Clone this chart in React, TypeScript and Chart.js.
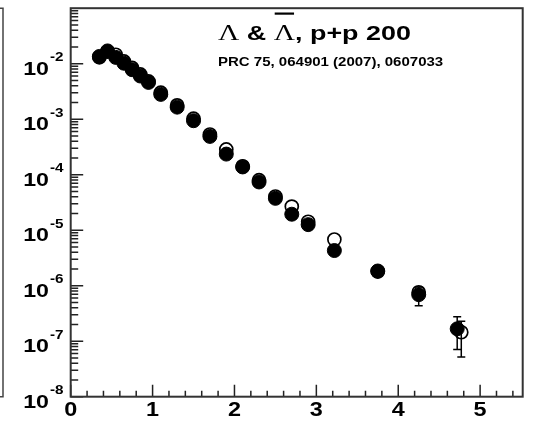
import React, { useEffect, useRef } from "react";
import { Chart, registerables } from "chart.js";

Chart.register(...registerables);

// ---- data ----
const ptLambda = [0.35, 0.45, 0.55, 0.65, 0.75, 0.85, 0.95, 1.1, 1.3, 1.5, 1.7, 1.9, 2.1, 2.3, 2.5, 2.7, 2.9, 3.22, 3.75, 4.25, 4.72];
const yieldLambda = [1.35e-2, 1.7e-2, 1.3e-2, 1.02e-2, 7.8e-3, 6.0e-3, 4.6e-3, 2.8e-3, 1.65e-3, 9.4e-4, 4.9e-4, 2.35e-4, 1.38e-4, 7.4e-5, 3.75e-5, 1.94e-5, 1.26e-5, 4.3e-6, 1.84e-6, 6.9e-7, 1.67e-7];
const lambdaErrLow: (number | null)[] = [null, null, null, null, null, null, null, null, null, null, null, null, null, null, null, null, null, null, null, 4.35e-7, 7.1e-8];
const lambdaErrHigh: (number | null)[] = [null, null, null, null, null, null, null, null, null, null, null, null, null, null, null, null, null, null, null, 9.5e-7, 2.77e-7];

const ptAntiLambda = [0.35, 0.45, 0.55, 0.65, 0.75, 0.85, 0.95, 1.1, 1.3, 1.5, 1.7, 1.9, 2.1, 2.3, 2.5, 2.7, 2.9, 3.22, 3.75, 4.25, 4.77];
const yieldAntiLambda = [1.3e-2, 1.65e-2, 1.45e-2, 1.1e-2, 8.4e-3, 6.4e-3, 4.8e-3, 3.0e-3, 1.78e-3, 1.02e-3, 5.3e-4, 2.85e-4, 1.42e-4, 8.0e-5, 4.05e-5, 2.67e-5, 1.42e-5, 6.8e-6, 1.8e-6, 7.6e-7, 1.45e-7];
const antiErrLow: (number | null)[] = [null, null, null, null, null, null, null, null, null, null, null, null, null, null, null, null, null, null, null, null, 5.2e-8];
const antiErrHigh: (number | null)[] = [null, null, null, null, null, null, null, null, null, null, null, null, null, null, null, null, null, null, null, null, 2.28e-7];

const xTickLabels = ["0", "1", "2", "3", "4", "5"];
const xMajorTicks = [0, 1, 2, 3, 4, 5];
const xMinorSteps = [0.2, 0.4, 0.6, 0.8];
const yLabelExponents = [-8, -7, -6, -5, -4, -3, -2];
const yTickDecades = [-8, -7, -6, -5, -4, -3, -2];
const yMinorMultipliers = [2, 3, 4, 5, 6, 7, 8, 9];

const titleParts = [
  { text: "Λ", serif: true, bar: false },
  { text: " & ", serif: false, bar: false },
  { text: "Λ", serif: true, bar: true },
  { text: ", p+p 200", serif: false, bar: false },
];
const subtitle = "PRC 75, 064901 (2007), 0607033";

const SANS = '"Liberation Sans", Arial, sans-serif';
const SERIF = '"Liberation Serif", "Times New Roman", serif';

function drawScaled(ctx: CanvasRenderingContext2D, text: string, x: number, y: number, sx: number, align: "left" | "right" | "center") {
  const w = ctx.measureText(text).width * sx;
  let left = x;
  if (align === "right") left = x - w;
  else if (align === "center") left = x - w / 2;
  ctx.save();
  ctx.translate(left, y);
  ctx.scale(sx, 1);
  ctx.textAlign = "left";
  ctx.fillText(text, 0, 0);
  ctx.restore();
  return w;
}

const decorPlugin = {
  id: "decor",
  beforeDraw(chart: any) {
    const ctx = chart.ctx as CanvasRenderingContext2D;
    ctx.save();
    ctx.fillStyle = "#ffffff";
    ctx.fillRect(0, 0, chart.width, chart.height);
    ctx.restore();
  },
  beforeDatasetsDraw(chart: any) {
    const ctx = chart.ctx as CanvasRenderingContext2D;
    const { left, right, top, bottom } = chart.chartArea;
    const xs = chart.scales.x;
    const ys = chart.scales.y;
    ctx.save();
    ctx.strokeStyle = "#222";
    ctx.lineWidth = 1.5;
    // x ticks (inward)
    ctx.beginPath();
    xMajorTicks.forEach((v) => {
      const px = xs.getPixelForValue(v);
      ctx.moveTo(px, bottom);
      ctx.lineTo(px, bottom - 12);
      xMinorSteps.forEach((s) => {
        const mv = v + s;
        if (mv <= xs.max) {
          const mp = xs.getPixelForValue(mv);
          ctx.moveTo(mp, bottom);
          ctx.lineTo(mp, bottom - 6);
        }
      });
    });
    // y ticks (inward)
    yTickDecades.forEach((d) => {
      const base = Math.pow(10, d);
      const py = ys.getPixelForValue(base);
      ctx.moveTo(left, py);
      ctx.lineTo(left + 12.5, py);
      yMinorMultipliers.forEach((m) => {
        const mp = ys.getPixelForValue(m * base);
        ctx.moveTo(left, mp);
        ctx.lineTo(left + 7.5, mp);
      });
    });
    ctx.stroke();
    ctx.restore();

    // neighbour panel edge at the left
    ctx.save();
    ctx.strokeStyle = "#444";
    ctx.lineWidth = 1.5;
    ctx.beginPath();
    ctx.moveTo(0, top);
    ctx.lineTo(3, top);
    ctx.lineTo(3, bottom);
    ctx.lineTo(0, bottom);
    ctx.stroke();
    ctx.restore();

    // frame
    ctx.save();
    ctx.strokeStyle = "#333";
    ctx.lineWidth = 2;
    ctx.strokeRect(left, top, right - left, bottom - top);
    ctx.restore();

    // x labels
    ctx.save();
    ctx.fillStyle = "#000";
    ctx.font = `bold 19.5px ${SANS}`;
    ctx.textBaseline = "alphabetic";
    xMajorTicks.forEach((v, i) => {
      drawScaled(ctx, xTickLabels[i], xs.getPixelForValue(v), bottom + 18.8, 1.2, "center");
    });
    ctx.restore();

    // y labels 10^n
    ctx.save();
    ctx.fillStyle = "#000";
    yLabelExponents.forEach((e) => {
      const py = ys.getPixelForValue(Math.pow(10, e));
      ctx.font = `bold 19px ${SANS}`;
      drawScaled(ctx, "10", 49, py + 10.8, 1.22, "right");
      ctx.font = `bold 12.5px ${SANS}`;
      drawScaled(ctx, String(e), 50, py - 2.5, 1.22, "left");
    });
    ctx.restore();

    // title
    ctx.save();
    ctx.fillStyle = "#000";
    let x = 218;
    const sx = 1.28;
    titleParts.forEach((p) => {
      ctx.font = p.serif ? `23px ${SERIF}` : `bold 21px ${SANS}`;
      const w = drawScaled(ctx, p.text, x, 39.5, sx, "left");
      if (p.bar) {
        ctx.fillRect(x + 1, 12.5, w - 2, 2.2);
      }
      x += w;
    });
    ctx.font = `bold 12.5px ${SANS}`;
    drawScaled(ctx, subtitle, 218, 65.5, 1.2, "left");
    ctx.restore();
  },
  afterDatasetsDraw(chart: any) {
    const ctx = chart.ctx as CanvasRenderingContext2D;
    const xs = chart.scales.x;
    const ys = chart.scales.y;
    const drawBars = (pts: number[], lo: (number | null)[], hi: (number | null)[]) => {
      pts.forEach((p, i) => {
        const l = lo[i];
        const h = hi[i];
        if (l == null || h == null) return;
        const px = xs.getPixelForValue(p);
        const pl = ys.getPixelForValue(l);
        const ph = ys.getPixelForValue(h);
        ctx.beginPath();
        ctx.moveTo(px, pl);
        ctx.lineTo(px, ph);
        ctx.moveTo(px - 4, pl);
        ctx.lineTo(px + 4, pl);
        ctx.moveTo(px - 4, ph);
        ctx.lineTo(px + 4, ph);
        ctx.stroke();
      });
    };
    ctx.save();
    ctx.strokeStyle = "#000";
    ctx.lineWidth = 1.5;
    drawBars(ptLambda, lambdaErrLow, lambdaErrHigh);
    drawBars(ptAntiLambda, antiErrLow, antiErrHigh);
    ctx.restore();
  },
};

export default function App() {
  const ref = useRef<HTMLCanvasElement>(null);
  useEffect(() => {
    document.body.style.margin = "0";
    const chart = new Chart(ref.current as HTMLCanvasElement, {
      type: "scatter",
      data: {
        datasets: [
          {
            label: "Λ",
            data: ptLambda.map((x, i) => ({ x, y: yieldLambda[i] })),
            pointRadius: 7,
            pointBackgroundColor: "#000",
            pointBorderColor: "#000",
            pointBorderWidth: 1,
            showLine: false,
          },
          {
            label: "anti-Λ",
            data: ptAntiLambda.map((x, i) => ({ x, y: yieldAntiLambda[i] })),
            pointRadius: 6.5,
            pointBackgroundColor: "#fff",
            pointBorderColor: "#000",
            pointBorderWidth: 1.7,
            showLine: false,
          },
        ],
      },
      options: {
        animation: false,
        responsive: false,
        devicePixelRatio: 1,
        layout: { padding: { left: 70.7, right: 11.3, top: 5, bottom: 27.3 } },
        plugins: {
          legend: { display: false },
          tooltip: { enabled: false },
          title: { display: false },
        },
        scales: {
          x: { type: "linear", min: 0, max: 5.52, display: false },
          y: { type: "logarithmic", min: 1e-8, max: 1e-1, display: false },
        },
      },
      plugins: [decorPlugin],
    } as any);
    return () => chart.destroy();
  }, []);
  return <canvas ref={ref} width={534} height={424} style={{ display: "block" }} />;
}
